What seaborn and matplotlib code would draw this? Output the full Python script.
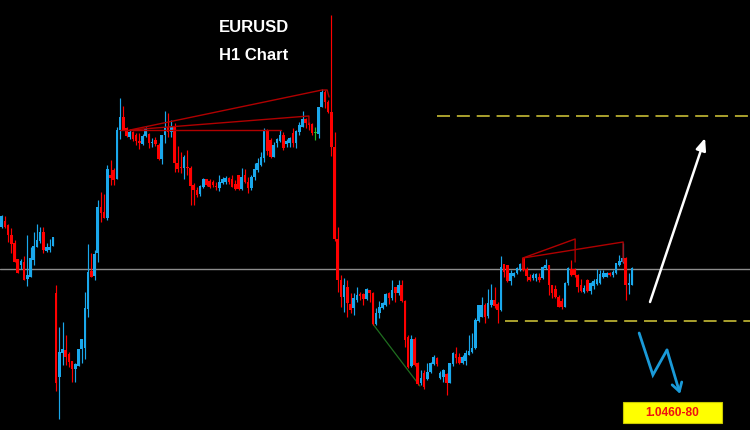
import numpy as np
import pandas as pd
import seaborn as sns
import matplotlib
matplotlib.use("Agg")
import matplotlib.pyplot as plt

# ---- candle data (price in points; the price axis is hidden) ----
open_ = [203,209,205,195,187,171,165,168,151,153,
         170,183,189,198,179,180,184,137,53,77,
         80,76,69,61,64,81,82,121,159,154,
         177,223,218,212,255,260,251,300,313,302,
         293,298,295,289,286,294,296,287,290,285,
         271,295,303,298,304,267,263,262,263,262,
         245,240,236,243,251,249,248,244,242,247,
         248,252,251,246,255,241,255,248,242,253,
         260,265,272,300,290,273,287,289,295,286,
         287,297,287,298,303,311,307,306,297,296,
         323,338,328,318,283,191,150,133,143,126,
         122,130,136,136,131,140,137,106,117,122,
         125,137,132,143,137,145,129,93,64,91,
         67,47,57,51,58,66,72,52,53,56,
         47,66,76,73,67,69,75,78,82,109,
         113,125,114,125,130,126,120,166,165,149,
         154,157,161,172,161,153,152,152,153,152,
         162,165,145,141,133,129,123,147,161,161,
         155,145,138,150,139,144,146,147,153,153,
         157,155,157,165,168,172,145,145]
high_ = [215,214,206,202,190,171,171,174,195,183,
         198,206,203,203,187,191,193,145,103,108,
         95,78,69,67,81,91,138,186,177,180,
         230,238,236,265,270,262,303,332,324,303,
         300,299,297,297,296,303,297,292,293,287,
         295,319,317,310,307,284,278,275,280,264,
         247,243,245,252,251,251,250,248,255,253,
         254,253,255,250,255,262,261,253,255,267,
         272,278,302,301,292,288,292,300,298,291,
         293,302,300,308,319,312,308,307,303,323,
         341,340,330,415,298,203,155,152,150,137,
         137,143,138,137,142,140,138,122,129,128,
         137,138,150,143,150,150,130,95,95,93,
         68,60,60,67,68,75,73,59,61,57,
         67,78,83,77,75,80,95,97,112,125,
         133,127,141,146,143,128,174,166,165,160,
         158,163,167,173,163,156,157,157,157,164,
         171,165,145,145,135,132,148,163,170,162,
         156,151,145,151,148,151,161,160,160,158,
         158,160,167,175,187,173,157,163]
low_ = [202,202,188,177,168,157,161,150,144,153,
        165,183,187,177,178,178,184,39,11,65,
        65,63,48,48,64,67,71,113,153,150,
        168,208,212,210,245,245,251,291,300,293,
        291,289,285,281,285,293,282,283,284,270,
        266,287,293,293,258,258,257,251,255,225,
        225,233,234,242,244,242,243,240,239,246,
        246,246,243,240,240,240,247,237,240,250,
        258,264,268,275,272,273,283,288,280,283,
        283,283,282,295,303,302,300,295,290,292,
        323,322,317,274,189,138,123,118,113,117,
        115,128,130,125,130,128,105,105,112,121,
        124,126,130,128,135,128,83,62,63,64,
        45,45,41,50,57,65,64,51,48,35,
        47,64,67,66,66,65,75,77,81,108,
        113,107,112,123,122,107,119,153,148,145,
        153,156,159,159,149,149,150,149,148,151,
        161,135,132,132,123,121,123,145,154,153,
        138,138,137,138,136,141,145,146,152,153,
        154,153,156,164,167,130,136,145]
close_ = [214,203,195,186,168,157,169,150,155,172,
          184,190,198,180,183,183,193,47,78,81,
          73,68,61,66,81,91,122,158,153,176,
          223,217,212,261,252,250,300,313,300,294,
          298,291,289,287,294,301,287,288,286,271,
          295,303,298,303,267,261,262,273,262,244,
          240,235,244,251,245,243,245,243,248,251,
          252,248,243,241,241,253,248,242,253,261,
          267,273,300,279,273,285,291,295,282,289,
          292,287,299,305,311,307,305,297,297,323,
          338,328,318,283,191,150,133,145,127,120,
          132,135,134,131,141,137,106,117,123,127,
          136,132,140,137,145,129,90,63,91,65,
          46,52,43,58,67,73,66,57,60,47,
          67,77,72,67,73,77,79,82,110,125,
          125,113,127,130,124,120,163,158,149,157,
          157,162,166,160,154,150,155,156,150,163,
          165,145,137,133,123,123,147,162,155,155,
          143,139,142,139,147,149,151,156,157,157,
          155,158,167,169,172,145,147,162]

# ---- overlays (candle index, price points) ----
level_hi, level_hi_from = 314, 136.0
level_lo, level_lo_from = 109, 157.3
last_price = 161
tri_left_up = ([40.1, 100.1, 101.7, 102.3], [300, 340, 340, 333])
tri_left_mid = ([40.1, 96.0, 96.0], [300, 314, 306])
tri_left_flat = ([37.0, 87.3], [300, 300])
tri_right_a = ([162.9, 162.9, 179.2, 179.2], [162, 172, 191, 168])
tri_right_b = ([162.9, 194.2, 194.2], [172, 188, 168])
green_trend = ([116.0, 130.7], [106, 44])
up_arrow = ([202.6, 219.8], [128, 292])
zigzag = ([199.2, 203.5, 207.9, 212.0], [97, 55, 80, 36])
target_label = "1.0460-80"
target_box = (194.2, 225.1, 7, 28)

sns.set_theme(style="dark")
plt.rcParams['font.family'] = ['Liberation Sans', 'DejaVu Sans']

BLUE = "#1aa8ec"
RED = "#ff0000"

df = pd.DataFrame({"o": open_, "h": high_, "l": low_, "c": close_})
df["i"] = np.arange(len(df))
df["col"] = np.where(df.c > df.o, BLUE, np.where(df.c < df.o, RED, "#22bb22"))

fig = plt.figure(figsize=(7.5, 4.3), dpi=100, facecolor="black")
ax = fig.add_axes([0, 0, 1, 1])
ax.set_facecolor("black")
x0 = -1.7 / 3.2
xend = x0 + 750 / 3.2
ax.set_xlim(x0, xend)
ax.set_ylim(0, 430)
ax.axis("off")

# last price line
ax.axhline(last_price, color="#8c8c8c", lw=1.0, zorder=1)

# wicks and bodies
ax.vlines(df.i, df.l, df.h, colors=df.col, lw=0.85, zorder=3)
bottom = np.minimum(df.o, df.c)
height = np.maximum(np.abs(df.c - df.o), 1.4)
ax.bar(df.i, height, bottom=bottom, width=0.86, color=df.col, linewidth=0, zorder=4)

# pattern lines
dk = "#b00000"
for xs, ys in (tri_left_up, tri_left_mid, tri_left_flat, tri_right_a, tri_right_b):
    ax.plot(xs, ys, color=dk, lw=1.0, zorder=5)
sns.lineplot(x=green_trend[0], y=green_trend[1], ax=ax, color="#1f6e1f", lw=0.9, zorder=2)

# levels
ax.plot([level_hi_from, xend], [level_hi, level_hi], color="#d8cc3a", lw=1.1,
        dashes=(8.5, 4.5), zorder=2)
ax.plot([level_lo_from, xend], [level_lo, level_lo], color="#d8cc3a", lw=1.1,
        dashes=(8.5, 4.5), zorder=2)

# arrows
ax.annotate("", xy=(up_arrow[0][1], up_arrow[1][1]), xytext=(up_arrow[0][0], up_arrow[1][0]),
            arrowprops=dict(arrowstyle="-|>,head_length=0.6,head_width=0.25", color="white",
                            lw=1.8, shrinkA=0, shrinkB=0), zorder=6)
ax.plot(zigzag[0][:-1], zigzag[1][:-1], color="#1a9ad8", lw=2.0, zorder=6,
        solid_joinstyle="miter")
ax.annotate("", xy=(zigzag[0][-1], zigzag[1][-1]), xytext=(zigzag[0][-2], zigzag[1][-2]),
            arrowprops=dict(arrowstyle="->,head_length=0.5,head_width=0.3", color="#1a9ad8",
                            lw=2.0, shrinkA=0, shrinkB=0), zorder=6)

# target box
bx0, bx1, by0, by1 = target_box
ax.add_patch(plt.Rectangle((bx0, by0), bx1 - bx0, by1 - by0, facecolor="#ffff00",
                           edgecolor="#c8c800", lw=0.8, zorder=7))
ax.text((bx0 + bx1) / 2, (by0 + by1) / 2, target_label, color="#ee1111", fontsize=8.6,
        fontweight="bold", ha="center", va="center", zorder=8)

# titles
fig.text(0.338, 0.937, "EURUSD", color="white", fontsize=12, fontweight="bold",
         ha="center", va="center")
fig.text(0.338, 0.870, "H1 Chart", color="white", fontsize=12, fontweight="bold",
         ha="center", va="center")

fig.savefig("out.png", dpi=100, facecolor="black")
